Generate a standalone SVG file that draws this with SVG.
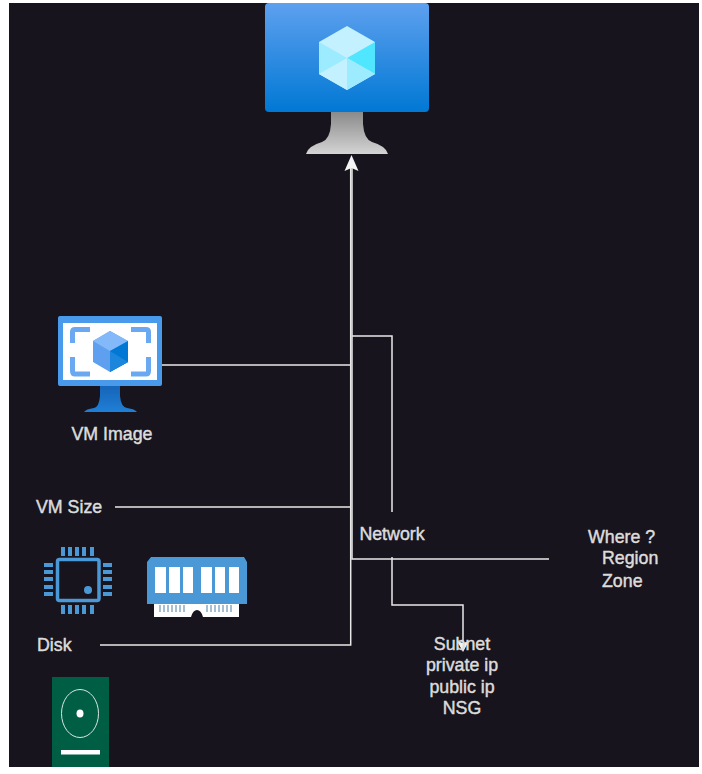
<svg xmlns="http://www.w3.org/2000/svg" width="702" height="774" viewBox="0 0 702 774">
<style>
.t{font-family:"Liberation Sans",Arial,sans-serif;font-size:17.800px;fill:#dcdcdc;stroke:#dcdcdc;stroke-width:.45px}
.c{fill:none;stroke:#e8e8e8;stroke-width:1.500}
.b{fill:#4a98d6}
</style>
<defs>
<linearGradient id="scr" x1="0" y1="0" x2="0" y2="1"><stop offset="0" stop-color="#5ea0ef"/><stop offset="1" stop-color="#0078d4"/></linearGradient>
<linearGradient id="std" x1="0" y1="0" x2="0" y2="1"><stop offset="0" stop-color="#8a8a8a"/><stop offset="1" stop-color="#d4d4d4"/></linearGradient>
<linearGradient id="std2" x1="0" y1="0" x2="0" y2="1"><stop offset="0" stop-color="#1565b8"/><stop offset="1" stop-color="#1f7fd6"/></linearGradient>
</defs>
<rect width="702" height="774" fill="#fff"/>
<rect x="9" y="3" width="690" height="764" fill="#18141d"/>
<g id="connectors">
<path class="c" d="M350.700 168V645H100"/>
<path class="c" d="M352 168V559H549"/>
<path class="c" d="M162 365H351"/>
<path class="c" d="M115 507H351"/>
<path class="c" d="M352 336H392V512"/>
<path class="c" d="M392 557V605H463V642"/>
<path fill="#f4f4f4" d="M351.500 155L358.500 171L351.500 168L344.500 171Z"/>
<path fill="#f4f4f4" d="M463 652L457 641L463 643L469 641Z"/>
</g>
<g id="vm">
<path d="M331 112H363V124Q364 139 372 142Q386 146 388 154H306Q308 146 322 142Q330 139 331 124Z" fill="url(#std)"/>
<rect x="265" y="3" width="164" height="109" rx="4" fill="url(#scr)"/>
<path d="M347 26L375 42V74L347 90L319 74V42Z" fill="#c3f1ff"/>
<path d="M347 58L375 42V74Z" fill="#50e6ff"/>
<path d="M347 58L375 74L347 90Z" fill="#9cebff"/>
<path d="M347 58V90L319 74Z" fill="#c3f1ff"/>
<path d="M347 58L319 74V42Z" fill="#9cebff"/>
</g>
<g id="vm-image">
<path d="M100 386H120V396Q121 407 127 408Q135 409 137 412H84Q86 409 94 408Q99 407 100 396Z" fill="url(#std2)"/>
<rect x="58" y="316" width="104" height="70" rx="2" fill="#4a9aeb"/>
<rect x="63" y="323" width="94" height="57" fill="#fff"/>
<path d="M90 329.500H75Q72.500 329.500 72.500 332V343M72.500 357V371Q72.500 374 75 374H90M131 329.500H146Q148.500 329.500 148.500 332V343M148.500 357V371Q148.500 374 146 374H131" fill="none" stroke="#6aa9f1" stroke-width="5"/>
<path d="M110 331L128 341V362L110 372L93 362V341Z" fill="#5ea0ef"/>
<path d="M110 331L128 341L110 351L93 341Z" fill="#83b9f9"/>
<path d="M110 351L128 341V362L110 372Z" fill="#0078d4"/>
<path d="M110 351L128 362L110 372Z" fill="#1b86dc"/>
<text class="t" x="112" y="439.500" text-anchor="middle">VM Image</text>
</g>
<g id="vm-size"><text class="t" x="36" y="512.500">VM Size</text></g>
<g id="cpu">
<rect x="57.500" y="559.500" width="41.500" height="41" rx="2" fill="none" stroke="#4a98d6" stroke-width="3.500"/>
<circle cx="88" cy="590" r="4" class="b"/>
<path d="M61 547h4v9h-4zM68 547h4v9h-4zM75 547h4v9h-4zM82 547h4v9h-4zM90 547h4v9h-4zM61 605h4v9h-4zM68 605h4v9h-4zM75 605h4v9h-4zM82 605h4v9h-4zM90 605h4v9h-4zM44 563h9v4h-9zM44 570h9v4h-9zM44 577h9v4h-9zM44 585h9v4h-9zM44 592h9v4h-9zM103 563h9v4h-9zM103 570h9v4h-9zM103 577h9v4h-9zM103 585h9v4h-9zM103 592h9v4h-9z" class="b"/>
</g>
<g id="ram">
<path d="M154 604H239V617H203Q201 610 197 610Q193 610 191 617H154Z" fill="#fff"/>
<path d="M160 605v7M164 605v7M168 605v7M172 605v7M176 605v7M180 605v7M184 605v7M207 605v7M211 605v7M215 605v7M219 605v7M223 605v7M227 605v7M231 605v7" stroke="#4a7fa6" stroke-width="1"/>
<path d="M151 557H244L247 562V604H147V562Z" class="b"/>
<path d="M155 567H166V593H155ZM169 567H180V593H169ZM183 567H193V593H183ZM201 567H212V593H201ZM215 567H225V593H215ZM229 567H239V593H229Z" fill="#fff"/>
</g>
<g id="disk-label"><text class="t" x="37" y="650.500">Disk</text></g>
<g id="disk">
<rect x="52" y="677" width="57" height="90" fill="#005e45"/>
<ellipse cx="80" cy="713.500" rx="18.500" ry="24" fill="none" stroke="#d8e6e0" stroke-width="1"/>
<ellipse cx="80" cy="713.500" rx="3.500" ry="4" fill="#fff"/>
<rect x="61" y="750" width="39" height="4.500" fill="#fff"/>
</g>
<g id="network"><text class="t" x="392" y="539.500" text-anchor="middle">Network</text></g>
<g id="where">
<text class="t" x="588" y="542.500">Where ?</text>
<text class="t" x="602" y="563.500">Region</text>
<text class="t" x="602" y="586.500">Zone</text>
</g>
<g id="subnet">
<text class="t" x="462" y="649.500" text-anchor="middle">Subnet</text>
<text class="t" x="462" y="670.500" text-anchor="middle">private ip</text>
<text class="t" x="462" y="693" text-anchor="middle">public ip</text>
<text class="t" x="462" y="713.500" text-anchor="middle">NSG</text>
</g>
</svg>
